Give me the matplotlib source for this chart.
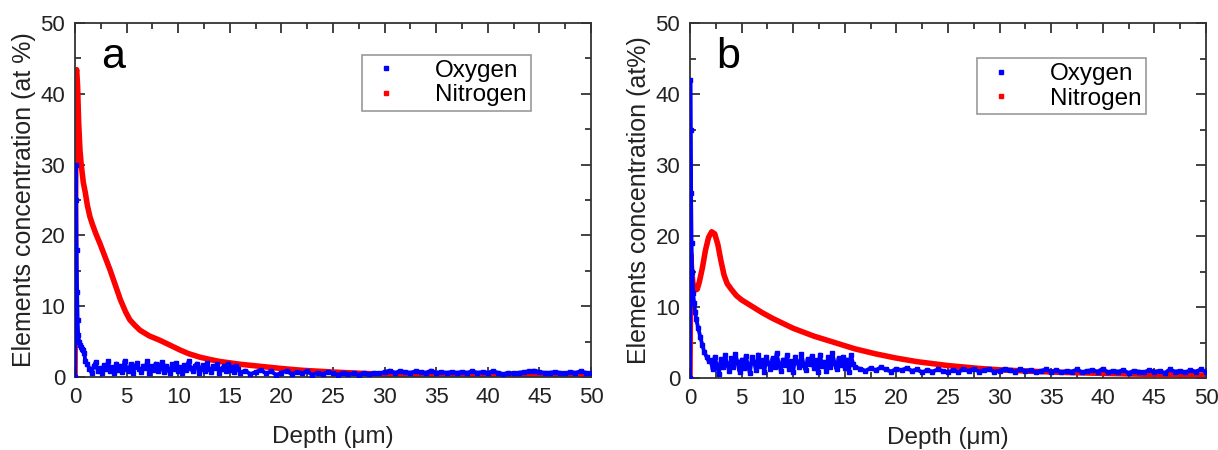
import numpy as np
import matplotlib
matplotlib.use("Agg")
import matplotlib.pyplot as plt
from matplotlib.lines import Line2D
from matplotlib.ticker import MultipleLocator

plt.rcParams['font.family'] = ['Liberation Sans', 'DejaVu Sans']

# ---------------- Panel a data ----------------
nit_a_depth = [0.0, 0.05, 0.1, 0.16, 0.25, 0.35, 0.48, 0.6, 0.8, 1.0, 1.2, 1.45, 1.7, 2.0, 2.4, 2.9, 3.4, 3.9,
               4.4, 4.9, 5.3, 5.8, 6.3, 7.2, 8.2, 9.2, 10.2, 11.0, 12.1, 13.0, 14.0, 15.0, 16.0, 18.0, 20.0,
               22.0, 25.0, 28.0, 30.0, 35.0, 40.0, 45.0, 50.0]
nit_a_val = [0.0, 20.0, 43.0, 43.4, 41.0, 36.0, 32.0, 30.0, 27.5, 26.0, 24.2, 22.6, 21.5, 20.3, 18.9, 17.0, 15.1,
             13.0, 10.9, 9.2, 8.1, 7.3, 6.6, 5.8, 5.2, 4.5, 3.8, 3.3, 2.8, 2.5, 2.2, 2.0, 1.8, 1.5, 1.2,
             0.95, 0.7, 0.5, 0.4, 0.3, 0.25, 0.2, 0.2]

oxy_a_surf_depth = [0.0, 0.05, 0.1, 0.15, 0.2, 0.25, 0.3, 0.4, 0.5, 0.6, 0.7, 0.8, 0.9, 1.0]
oxy_a_surf_val = [0.0, 30.0, 25.0, 18.0, 12.0, 8.0, 6.0, 5.0, 4.5, 4.2, 4.0, 3.8, 3.4, 2.2]
oxy_a_mid_start, oxy_a_mid_step = 1.2, 0.2
oxy_a_mid_val = [1.8, 1.2, 0.6, 1.5, 2.1, 0.9, 1.3, 0.5, 1.7, 1.1, 2.2, 0.8, 1.4, 0.6, 1.9, 1.0, 1.6, 0.7, 2.3, 1.2,
                 0.9, 1.8, 0.5, 1.4, 2.0, 1.1, 0.7, 1.6, 1.3, 2.2, 0.6, 1.5, 1.0, 1.9, 0.8, 1.3, 2.1, 0.7, 1.6, 1.1,
                 0.5, 1.8, 1.2, 2.0, 0.9, 1.4, 0.6, 1.7, 1.0, 2.2, 1.3, 0.8, 1.5, 1.9, 0.6, 1.2, 1.7, 0.9, 2.0, 1.1,
                 0.7, 1.6, 1.3, 1.8, 0.5, 1.2, 1.5, 0.8, 1.9, 1.0, 1.4, 0.7, 1.6, 1.2]
oxy_a_tail_start, oxy_a_tail_step = 16.0, 0.5
oxy_a_tail_val = [0.6, 0.9, 0.4, 0.7, 1.0, 0.5, 0.8, 0.3, 0.6, 0.9, 0.4, 0.7, 0.5, 0.8, 0.3, 0.6, 0.4, 0.7, 0.5, 0.3,
                  0.6, 0.4, 0.5, 0.3, 0.6, 0.4, 0.6, 0.5, 0.7,
                  0.9, 0.6, 0.8, 0.7, 0.6, 0.8, 0.7, 0.6, 0.9, 0.6, 0.7, 0.6, 0.7, 0.6, 0.7, 0.6, 0.8, 0.6, 0.7, 0.6,
                  0.8, 0.6, 0.4, 0.6, 0.5, 0.6, 0.7, 0.8, 0.9, 0.7, 0.6, 0.6, 0.7, 0.6, 0.5, 0.7, 0.6, 0.8, 0.6, 0.5]

# ---------------- Panel b data ----------------
nit_b_depth = [0.0, 0.03, 0.06, 0.1, 0.2, 0.3, 0.5, 0.7, 0.9, 1.2, 1.5, 1.8, 2.1, 2.4, 2.7, 3.0, 3.3, 3.6, 4.0, 4.5,
               5.0, 6.0, 7.0, 8.0, 9.0, 10.0, 12.0, 14.0, 16.0, 18.0, 20.0, 22.0, 25.0, 28.0, 30.0, 33.0, 36.0,
               40.0, 45.0, 50.0]
nit_b_val = [0.0, 8.0, 17.5, 16.5, 14.5, 13.2, 12.4, 12.5, 13.5, 15.5, 18.0, 19.8, 20.6, 20.3, 18.8, 16.5, 14.5, 13.3,
             12.5, 11.6, 11.0, 10.1, 9.2, 8.4, 7.7, 7.0, 5.9, 5.0, 4.1, 3.4, 2.8, 2.3, 1.75, 1.35, 1.15, 0.95, 0.8,
             0.65, 0.5, 0.4]

oxy_b_surf_depth = [0.0, 0.03, 0.06, 0.1, 0.15, 0.2, 0.3, 0.4, 0.5, 0.6, 0.8, 1.0, 1.2, 1.4, 1.6, 1.8]
oxy_b_surf_val = [0.0, 42.0, 35.0, 26.0, 19.0, 15.0, 12.0, 10.5, 9.3, 8.3, 7.0, 5.8, 4.6, 3.6, 3.0, 2.4]
oxy_b_mid_start, oxy_b_mid_step = 2.0, 0.2
oxy_b_mid_val = [2.5, 1.2, 3.0, 1.8, 0.6, 2.7, 1.5, 3.2, 2.0, 1.0, 2.8, 1.6, 3.4, 2.2, 0.9, 2.6, 1.4, 3.1, 1.9, 0.7,
                 2.9, 2.3, 1.1, 3.3, 1.7, 2.5, 0.8, 3.0, 2.1, 1.3, 2.8, 1.6, 3.5, 2.0, 1.0, 2.6, 1.8, 3.2, 1.2, 2.4,
                 0.9, 3.0, 2.2, 1.5, 3.4, 1.9, 1.1, 2.7, 2.0, 3.1, 1.4, 2.5, 0.8, 3.3, 1.7, 2.3, 1.0, 2.9, 1.6, 3.5,
                 2.1, 1.2, 2.8, 1.8, 3.0, 1.4, 2.6, 0.9, 3.2, 2.0, 1.5]
oxy_b_tail_start, oxy_b_tail_step = 16.5, 0.5
oxy_b_tail_val = [1.3, 1.0, 1.4, 1.1, 1.5, 1.2, 0.9, 1.3, 1.1, 1.4, 1.0, 1.2, 0.8, 1.1, 0.9, 1.2, 1.0, 0.8, 1.1, 0.9,
                  1.2, 1.0, 1.3, 0.9, 1.1, 1.2, 0.9, 1.0, 1.3, 1.1, 0.9, 1.2, 1.0, 1.1, 0.8, 1.0, 1.2, 0.9, 1.1, 0.8,
                  1.0, 0.9, 1.2, 0.8, 1.0, 1.1, 0.9, 1.3, 0.8, 1.0, 0.9, 1.1, 0.7, 1.0, 0.9, 0.8, 1.1, 0.9, 1.0, 0.7,
                  1.2, 0.9, 1.0, 0.8, 1.1, 0.9, 1.2, 0.9]

x_ticks = [0, 5, 10, 15, 20, 25, 30, 35, 40, 45, 50]
y_ticks = [0, 10, 20, 30, 40, 50]
series_names = ["Oxygen", "Nitrogen"]
panel_letters = ["a", "b"]
y_labels = ["Elements concentration (at %)", "Elements concentration (at%)"]
x_label = "Depth (\u03bcm)"

BLUE = "#0000ff"
RED = "#ff0000"


def build_oxy(surf_d, surf_v, mid_start, mid_step, mid_v, tail_start, tail_step, tail_v):
    d = list(surf_d)
    v = list(surf_v)
    d += [mid_start + mid_step * i for i in range(len(mid_v))]
    v += list(mid_v)
    d += [tail_start + tail_step * i for i in range(len(tail_v))]
    v += list(tail_v)
    return d, v


oxy_a_d, oxy_a_v = build_oxy(oxy_a_surf_depth, oxy_a_surf_val, oxy_a_mid_start, oxy_a_mid_step, oxy_a_mid_val,
                             oxy_a_tail_start, oxy_a_tail_step, oxy_a_tail_val)
oxy_b_d, oxy_b_v = build_oxy(oxy_b_surf_depth, oxy_b_surf_val, oxy_b_mid_start, oxy_b_mid_step, oxy_b_mid_val,
                             oxy_b_tail_start, oxy_b_tail_step, oxy_b_tail_val)

fig = plt.figure(figsize=(12.18, 4.5), dpi=100)
ax_a = fig.add_axes([0.0616, 0.1622, 0.4236, 0.7868])
ax_b = fig.add_axes([0.5665, 0.16, 0.4236, 0.7888])

panels = [
    (ax_a, oxy_a_d, oxy_a_v, nit_a_depth, nit_a_val, (0.556, 0.910)),
    (ax_b, oxy_b_d, oxy_b_v, nit_b_depth, nit_b_val, (0.556, 0.901)),
]

for i, (ax, od, ov, nd, nv, leg_pos) in enumerate(panels):
    ax.plot(od, ov, color=BLUE, lw=2.8, marker='s', ms=3, mec=BLUE, mfc=BLUE, zorder=3)
    ax.plot(nd, nv, color=RED, lw=4, solid_capstyle='round', solid_joinstyle='round', zorder=2)
    ax.set_xlim(0, 50)
    ax.set_ylim(0, 50)
    ax.set_xticks(x_ticks)
    ax.set_yticks(y_ticks)
    ax.xaxis.set_minor_locator(MultipleLocator(2.5))
    ax.yaxis.set_minor_locator(MultipleLocator(5))
    ax.tick_params(which='both', direction='in', top=True, right=True, width=1.2, colors='#222222',
                   labelcolor='#222222', labelsize=16)
    ax.tick_params(which='major', length=7, pad=7)
    ax.tick_params(which='minor', length=4)
    for s in ax.spines.values():
        s.set_linewidth(1.3)
        s.set_color('#333333')
    ax.set_xlabel(x_label, fontsize=17.5, color='#222222', labelpad=13)
    ax.set_ylabel(y_labels[i], fontsize=18, color='#222222', labelpad=3)
    ax.text(0.074, 0.904, panel_letters[i], transform=ax.transAxes, fontsize=31, va='center', ha='center',
            color='black')
    handles = [Line2D([], [], ls='none', marker='s', ms=3, color=BLUE),
               Line2D([], [], ls='none', marker='s', ms=3, color=RED)]
    leg = ax.legend(handles, series_names, loc='upper left', bbox_to_anchor=leg_pos, fontsize=17.5,
                    frameon=True, fancybox=False, edgecolor='#999999', framealpha=1, handlelength=1.6,
                    handletextpad=1.2, borderpad=0.2, labelspacing=0.1, borderaxespad=0)
    leg.get_frame().set_linewidth(1.2)

fig.savefig("out.png", dpi=100)
